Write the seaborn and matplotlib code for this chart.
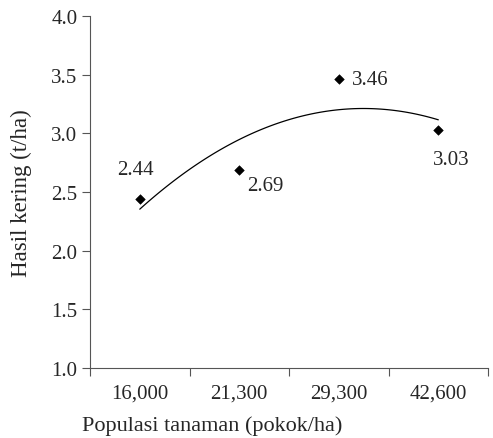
import numpy as np
import matplotlib
matplotlib.use("Agg")
import matplotlib.pyplot as plt
import seaborn as sns

# =============================
# DATA
# =============================
populasi = ["16,000", "21,300", "29,300", "42,600"]
hasil = [2.44, 2.69, 3.46, 3.03]
label_hasil = ["2.44", "2.69", "3.46", "3.03"]
y_ticks = [1.0, 1.5, 2.0, 2.5, 3.0, 3.5, 4.0]

# =============================
# STYLE
# =============================
sns.set_style("ticks")
plt.rcParams['font.family'] = ['Liberation Serif', 'DejaVu Serif']
plt.rcParams['font.size'] = 15

fig = plt.figure(figsize=(4.93, 4.39), dpi=100)
ax = fig.add_axes([0.1826, 0.1595, 0.8074, 0.8015])

pos = np.arange(len(populasi))

# trend line (2nd order fit)
sns.regplot(x=pos, y=hasil, order=2, scatter=False, ci=None, ax=ax,
            line_kws=dict(color="black", lw=0.9))

# points
sns.scatterplot(x=pos, y=hasil, marker="D", s=24, color="black",
                edgecolor="black", ax=ax, zorder=5)

# labels (offset in points)
offsets = [(-3.4, 21), (18.5, -11), (22.5, 0.3), (9.2, -21)]
for xi, yi, txt, off in zip(pos, hasil, label_hasil, offsets):
    ax.annotate(txt, (xi, yi), xytext=off, textcoords="offset points",
                ha="center", va="center", fontsize=15)

# axes
ax.set_xlim(-0.5, len(populasi) - 0.5)
ax.set_ylim(1.0, 4.0)
ax.set_yticks(y_ticks)
ax.set_yticklabels([f"{t:.1f}" for t in y_ticks], fontsize=15)

ax.set_xticks(np.arange(-0.5, len(populasi), 1.0))
ax.set_xticklabels([])
ax.set_xticks(pos, minor=True)
ax.set_xticklabels(populasi, minor=True, fontsize=15)
ax.tick_params(axis="x", which="minor", length=0, pad=11)
ax.tick_params(axis="both", which="major", length=6, width=0.8, color="#555555")
ax.tick_params(axis="y", which="major", pad=3)

for side in ["top", "right"]:
    ax.spines[side].set_visible(False)
for side in ["left", "bottom"]:
    ax.spines[side].set_linewidth(0.8)
    ax.spines[side].set_color("#555555")

ax.set_ylabel("Hasil kering (t/ha)", fontsize=16.5, labelpad=14)
ax.set_xlabel("")
fig.text(82 / 493, 1 - 426 / 439, "Populasi tanaman (pokok/ha)",
         ha="left", va="center", fontsize=16)

fig.savefig("out.png", dpi=100)
plt.close(fig)
